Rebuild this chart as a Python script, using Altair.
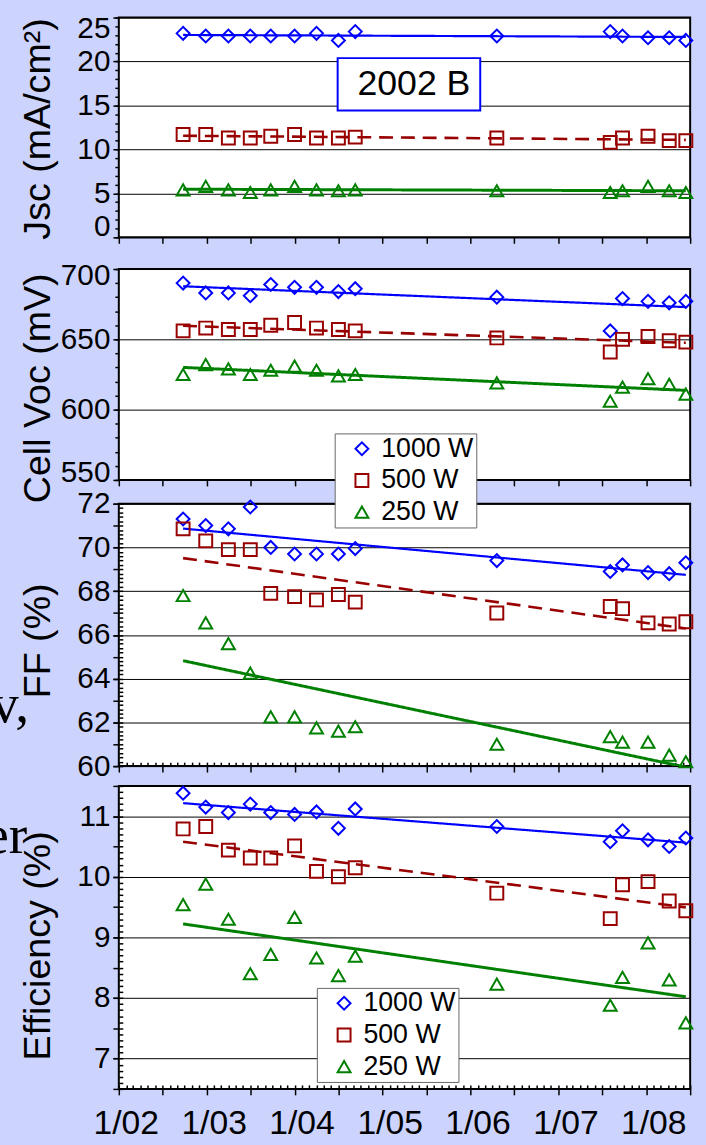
import altair as alt
import pandas as pd

# ---------------- data ----------------
dates = ["2002-09-25", "2002-12-28", "2003-04-01", "2003-07-01", "2003-09-24",
         "2004-01-01", "2004-04-01", "2004-07-01", "2004-09-09", "2006-04-20",
         "2007-08-04", "2007-09-24", "2008-01-08", "2008-04-05", "2008-06-13"]
series = ["1000 W", "500 W", "250 W"]

jsc_1000 = [23.2, 22.9, 22.9, 22.9, 22.9, 22.9, 23.2, 22.4, 23.4, 22.9, 23.4, 22.9, 22.7, 22.7, 22.4]
jsc_500 = [11.7, 11.7, 11.3, 11.3, 11.5, 11.7, 11.3, 11.3, 11.4, 11.3, 10.8, 11.3, 11.5, 11.0, 11.0]
jsc_250 = [5.4, 5.8, 5.4, 5.1, 5.4, 5.8, 5.4, 5.3, 5.4, 5.3, 5.1, 5.3, 5.8, 5.3, 5.1]

voc_1000 = [690, 683, 683, 681, 689, 687, 687, 684, 686, 680, 656, 679, 677, 676, 677]
voc_500 = [656, 658, 657, 657, 660, 662, 658, 657, 656, 651, 641, 650, 652, 649, 648]
voc_250 = [625, 632, 629, 625, 628, 631, 628, 624, 625, 619, 606, 616, 622, 618, 611]

ff_1000 = [71.3, 71.0, 70.85, 71.85, 70.0, 69.7, 69.7, 69.7, 69.95, 69.4, 68.9, 69.2, 68.85, 68.8, 69.3]
ff_500 = [70.85, 70.3, 69.9, 69.9, 67.9, 67.75, 67.6, 67.85, 67.5, 67.0, 67.3, 67.2, 66.55, 66.5, 66.6]
ff_250 = [67.8, 66.55, 65.6, 64.25, 62.25, 62.25, 61.75, 61.6, 61.8, 61.0, 61.35, 61.1, 61.1, 60.5, 60.2]

eff_1000 = [11.38, 11.15, 11.06, 11.2, 11.06, 11.03, 11.07, 10.8, 11.12, 10.83, 10.58, 10.76, 10.61, 10.5, 10.64]
eff_500 = [10.79, 10.83, 10.44, 10.31, 10.31, 10.51, 10.09, 10.0, 10.15, 9.73, 9.31, 9.87, 9.92, 9.6, 9.44]
eff_250 = [9.54, 9.88, 9.3, 8.4, 8.72, 9.33, 8.66, 8.37, 8.69, 8.23, 7.88, 8.34, 8.91, 8.3, 7.59]

titles = ["Jsc (mA/cm²)", "Cell Voc (mV)", "FF (%)", "Efficiency (%)"]
panel_label = ["2002 B"]
fragments = ["v,", "er"]

# labelled y ticks per panel
jsc_labels = [0, 5, 10, 15, 20, 25]
voc_labels = [550, 600, 650, 700]
ff_labels = [60, 62, 64, 66, 68, 70, 72]
eff_labels = [7, 8, 9, 10, 11]

# ---------------- styles ----------------
colors = ["#0000FF", "#990000", "#008000"]
shapes = ["diamond", "square", "triangle-up"]
dashes = [[1, 0], [14, 8], [1, 0]]
BG = "#CCD4FE"
FONT = "Liberation Sans"
W = 577


def to_ms(s):
    return int(pd.Timestamp(s).value // 1_000_000)


date_ms = [to_ms(d) for d in dates]
X_DOMAIN = [to_ms("2002-01-01"), to_ms("2008-07-01")]
half_years = [to_ms(f"{y}-{m:02d}-01") for y in range(2002, 2009) for m in (1, 7) if (y, m) <= (2008, 7)]
months = [to_ms(f"{y}-{m:02d}-01") for y in range(2002, 2009) for m in range(1, 13) if (y, m) <= (2008, 7)]


def long_frame(v1000, v500, v250):
    rows = []
    for name, vals in zip(series, (v1000, v500, v250)):
        for t, v in zip(date_ms, vals):
            rows.append({"date": t, "series": name, "value": v})
    return pd.DataFrame(rows)


def steps(a, b, step):
    n = int(round((b - a) / step))
    return [round(a + i * step, 4) for i in range(n + 1)]


LEG_EXPR = ("datum.label === '1000 W' ? datum.label + '\u2002\u00a0' : "
            "'\u2002' + datum.label + '\u2002\u00a0'")


def legend_at(x, y):
    return alt.Legend(orient="none", legendX=x, legendY=y, title=None, direction="vertical",
                      labelFontSize=27, labelFont=FONT, labelColor="black",
                      symbolSize=170, symbolStrokeWidth=2, padding=2, rowPadding=4,
                      strokeColor="#666666", fillColor="white", labelOffset=6,
                      symbolOffset=12, labelExpr=LEG_EXPR)


def panel(df, ydom, height, labelled, mid, minor, minor_inward, title, title_y,
          flush=False, flush_offset=0, x_minor=False, x_labels=False, legend=None,
          widths=(2.2, 3, 2.2), extras=()):
    xs = alt.Scale(type="utc", domain=X_DOMAIN, nice=False)
    ys = alt.Scale(domain=ydom, nice=False, zero=False)
    base = alt.Chart(df)

    lines = base.transform_regression("date", "value", groupby=["series"]).mark_line(clip=True).encode(
        x=alt.X("date:T", scale=xs, axis=None),
        y=alt.Y("value:Q", scale=ys, axis=None),
        stroke=alt.Stroke("series:N", scale=alt.Scale(domain=series, range=colors), legend=None),
        strokeDash=alt.StrokeDash("series:N", scale=alt.Scale(domain=series, range=dashes), legend=None),
        strokeWidth=alt.StrokeWidth("series:N", scale=alt.Scale(domain=series, range=list(widths)), legend=None),
    )

    xkw = dict(orient="bottom", values=half_years, tickSize=6, labels=x_labels, title=None,
               domain=False, grid=False)
    if x_labels:
        xkw.update(labelExpr="utcmonth(datum.value) === 0 ? utcFormat(datum.value, '%-m/%y') : ''",
                   labelFontSize=34, labelPadding=12, labelOffset=7, labelFlush=False,
                   labelOverlap=False)
    ykw = dict(orient="left", values=labelled, tickSize=6, grid=True, title=title,
               titleX=-81, titleY=title_y, titleAngle=270, titleAlign="center",
               titleBaseline="middle", format="d", labelPadding=3, labelFlush=flush,
               labelOverlap=False, domain=False)
    if flush:
        ykw["labelFlushOffset"] = flush_offset

    points = base.mark_point(filled=False, size=170, strokeWidth=2, opacity=1).encode(
        x=alt.X("date:T", scale=xs, axis=alt.Axis(**xkw)),
        y=alt.Y("value:Q", scale=ys, axis=alt.Axis(**ykw)),
        color=alt.Color("series:N", scale=alt.Scale(domain=series, range=colors), legend=legend),
        shape=alt.Shape("series:N", scale=alt.Scale(domain=series, range=shapes), legend=legend),
    )

    layers = [lines, points]

    if mid:
        mid_y = alt.Axis(orient="left", values=mid, tickSize=6, labels=False, domain=False,
                         grid=False, title=None)
        layers.append(base.mark_point(opacity=0).encode(
            x=alt.X("date:T", scale=xs, axis=None),
            y=alt.Y("value:Q", scale=ys, axis=mid_y)))

    minor_y = alt.Axis(orient="left", values=minor, tickSize=4, offset=-4 if minor_inward else 0,
                       labels=False, domain=False, grid=False, title=None)
    minor_x = (alt.Axis(orient="bottom", values=months, tickSize=4, offset=-4, labels=False,
                        domain=False, grid=False, title=None) if x_minor else None)
    layers.append(base.mark_point(opacity=0).encode(
        x=alt.X("date:T", scale=xs, axis=minor_x),
        y=alt.Y("value:Q", scale=ys, axis=minor_y)))

    return (alt.layer(*layers, *extras)
            .resolve_scale(x="independent", y="independent")
            .resolve_axis(x="independent", y="independent")
            .properties(width=W, height=height))


def spacer(h):
    return (alt.Chart(pd.DataFrame({"s": [0]})).mark_point(opacity=0)
            .encode(x=alt.value(0), y=alt.value(0))
            .properties(width=W, height=h,
                        view=alt.ViewBackground(fill="transparent", stroke="transparent")))


# annotations
label_df = pd.DataFrame({"label": panel_label})
box = alt.Chart(label_df).mark_rect(fill="white", stroke="#0000FF", strokeWidth=2).encode(
    x=alt.value(221), x2=alt.value(365), y=alt.value(41), y2=alt.value(94))
box_text = alt.Chart(label_df).mark_text(font=FONT, fontSize=36, color="black", align="center",
                                         baseline="middle").encode(
    text="label:N", x=alt.value(298), y=alt.value(67))
# invisible anchor fixing the top margin of the page (top of first plot at 11 px)
top_anchor = alt.Chart(label_df).mark_rect(opacity=0).encode(
    x=alt.value(0), x2=alt.value(1), y=alt.value(-11), y2=alt.value(-10))

frag_v = alt.Chart(pd.DataFrame({"t": [fragments[0]]})).mark_text(
    font="Liberation Serif", fontSize=56, color="black", align="left", baseline="alphabetic").encode(
    text="t:N", x=alt.value(-129), y=alt.value(220))
frag_er = alt.Chart(pd.DataFrame({"t": [fragments[1]]})).mark_text(
    font="Liberation Serif", fontSize=56, color="black", align="left", baseline="alphabetic").encode(
    text="t:N", x=alt.value(-136), y=alt.value(68))

p1 = panel(long_frame(jsc_1000, jsc_500, jsc_250), [0, 25], 222,
           jsc_labels, None, steps(0, 25, 1), False, titles[0], 112,
           flush=True, flush_offset=4, extras=(box, box_text, top_anchor))
p2 = panel(long_frame(voc_1000, voc_500, voc_250), [550, 700], 213,
           voc_labels, None, steps(550, 700, 10), False, titles[1], 120,
           flush=True, flush_offset=8)
p3 = panel(long_frame(ff_1000, ff_500, ff_250), [60, 72], 265,
           ff_labels, steps(60, 72, 1), steps(60, 72, 0.2), True, titles[2], 138,
           x_minor=True, legend=legend_at(218, -71), extras=(frag_v,))
p4 = panel(long_frame(eff_1000, eff_500, eff_250), [6.5, 11.5], 306,
           eff_labels, steps(6.5, 11.5, 0.5), steps(6.5, 11.5, 0.1), True, titles[3], 161,
           x_minor=True, x_labels=True, legend=legend_at(200, 204), widths=(1.3, 3, 2.2),
           extras=(frag_er,))

chart = (alt.vconcat(p1, spacer(32), p2, spacer(24), p3, spacer(20), p4, spacing=0, bounds="flush")
         .resolve_legend(color="independent", shape="independent")
         .properties(background=BG, padding={"left": -17, "top": 0, "right": 8, "bottom": 2})
         .configure_view(fill="white", stroke="black", strokeWidth=2)
         .configure_axis(labelFont=FONT, titleFont=FONT, labelColor="black", titleColor="black",
                         tickColor="black", gridColor="black", gridWidth=1, tickWidth=1.5,
                         titleFontWeight="normal", labelFontSize=30, titleFontSize=38))

chart.save("out.html", embed_options={"renderer": "svg", "actions": False})
